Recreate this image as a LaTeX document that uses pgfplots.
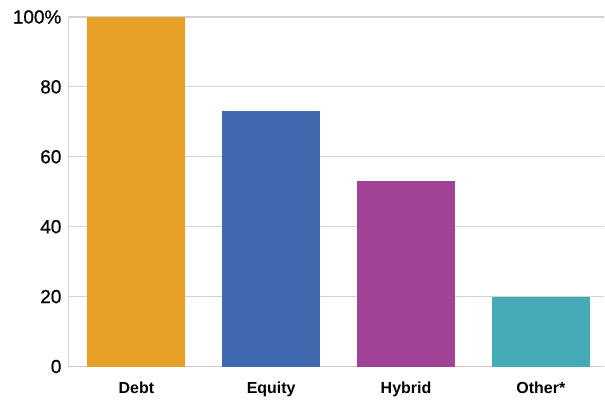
\documentclass[border=0pt]{standalone}
\usepackage{pgfplots}
\pgfplotsset{compat=1.18}
\usepackage{fontspec}
\setmainfont{Liberation Sans}
\newfontfamily\tickfont[FakeBold=0.6]{Liberation Sans}
\definecolor{cDebt}{HTML}{E6A027}
\definecolor{cEq}{HTML}{4169AF}
\definecolor{cHyb}{HTML}{A04396}
\definecolor{cOth}{HTML}{45A9B8}
\definecolor{gridc}{HTML}{D6D3CF}
\definecolor{basec}{HTML}{CFC7BF}
\begin{document}
\begin{tikzpicture}
\begin{axis}[
  name=ax,
  scale only axis,
  width=536pt, height=350pt,
  xmin=-0.5, xmax=3.47,
  ymin=0, ymax=100,
  axis x line*=bottom,
  axis y line*=left,
  x axis line style={draw=basec, line width=1.5pt},
  y axis line style={draw=gridc, line width=1pt},
  xtick={0,1,2,3},
  xticklabels={Debt,Equity,Hybrid,Other*},
  ytick={0,20,40,60,80,100},
  yticklabels={0,20,40,60,80,100\%},
  major tick length=0pt,
  ymajorgrids,
  grid style={draw=gridc, line width=1.2pt},
  yticklabel style={font=\fontsize{19}{21}\tickfont, xshift=-4pt},
  xticklabel style={font=\fontsize{16}{18}\selectfont\bfseries, yshift=-12pt},
  /pgf/number format/assume math mode=true,
  ybar, bar width=98pt, bar shift=0pt,
  clip=false,
]
\addplot[fill=cDebt, draw=none] coordinates {(0,100)};
\addplot[fill=cEq, draw=none] coordinates {(1,73.1)};
\addplot[fill=cHyb, draw=none] coordinates {(2,53.2)};
\addplot[fill=cOth, draw=none] coordinates {(3,20)};
\end{axis}
\path ([xshift=-69pt,yshift=-34pt]ax.south west) rectangle ([yshift=17pt]ax.north east);
\end{tikzpicture}
\end{document}
